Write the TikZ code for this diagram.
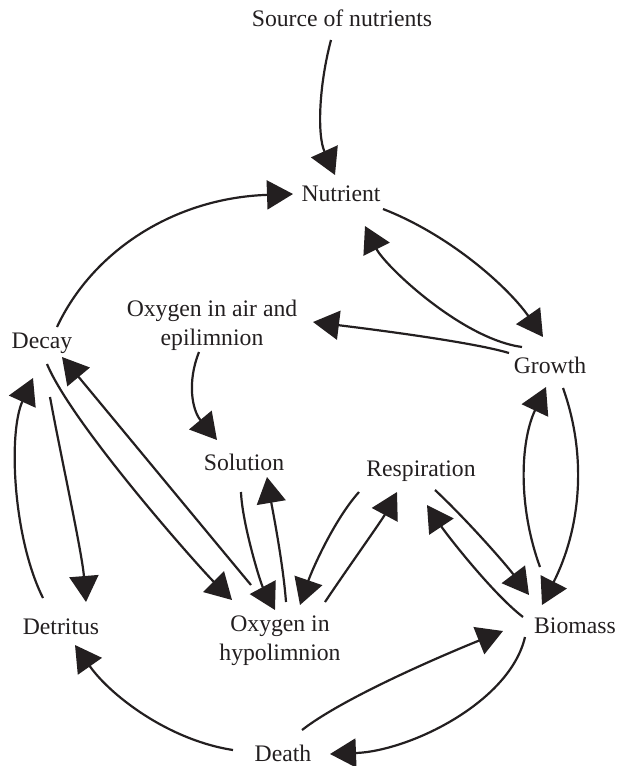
\documentclass[tikz,border=0pt]{standalone}
\usepackage{fontspec}
\setmainfont{Liberation Serif}
\usetikzlibrary{arrows.meta}
\definecolor{ink}{HTML}{231F20}
\begin{document}
\begin{tikzpicture}[x=1pt,y=-1pt,
  lbl/.style={font=\fontsize{23.7}{29}\selectfont, text=ink, inner sep=0pt, anchor=base, align=center},
  flow/.style={line width=2.2pt, draw=ink, -{Triangle[length=26pt,width=29pt,fill=ink]}}]
\useasboundingbox (0,0) rectangle (617,766);

% compartments of the lake model (two-line labels sit on their last baseline)
\node[lbl] (source)   at (342,26)  {Source of nutrients};
\node[lbl] (nutrient) at (341,201) {Nutrient};
\node[lbl] (oxair)    at (212,345) {Oxygen in air and\\epilimnion};
\node[lbl] (decay)    at (42,348)  {Decay};
\node[lbl] (growth)   at (550,373) {Growth};
\node[lbl] (solution) at (244,470) {Solution};
\node[lbl] (resp)     at (421,476) {Respiration};
\node[lbl] (detritus) at (61,634)  {Detritus};
\node[lbl] (oxhyp)    at (280,660) {Oxygen in\\hypolimnion};
\node[lbl] (biomass)  at (575,633) {Biomass};
\node[lbl] (death)    at (283,761) {Death};

% nutrient cycle
\draw[flow] ([shift={(-11,14)}]source.base) .. controls +(-12,45) and +(-18,-40) .. ([shift={(-6,-26)}]nutrient.base);
\draw[flow] ([shift={(15,-21)}]decay.base) .. controls +(35,-75) and +(-120,4) .. ([shift={(-48,-7)}]nutrient.base);
\draw[flow] ([shift={(42,8)}]nutrient.base) .. controls +(67,26) and +(-35,-50) .. ([shift={(-7,-36)}]growth.base);
\draw[flow] ([shift={(-28,-26)}]growth.base) .. controls +(-60,-8) and +(20,40) .. ([shift={(24,25)}]nutrient.base);
\draw[flow] ([shift={(-41,-20)}]growth.base) .. controls +(-40,-12) and +(40,5) .. ([shift={(101,-23)}]oxair.base);

% growth and biomass
\draw[flow] ([shift={(-35,-66)}]biomass.base) .. controls +(-22,-60) and +(-26,55) .. ([shift={(-4,14)}]growth.base);
\draw[flow] ([shift={(13,15)}]growth.base) .. controls +(25,70) and +(38,-75) .. ([shift={(-33,-28)}]biomass.base);

% respiration
\draw[flow] ([shift={(14,14)}]resp.base) .. controls +(30,28) and +(-25,-33) .. ([shift={(-46,-38)}]biomass.base);
\draw[flow] ([shift={(-52,-16)}]biomass.base) .. controls +(-30,-23) and +(20,30) .. ([shift={(6,29)}]resp.base);
\draw[flow] ([shift={(-62,16)}]resp.base) .. controls +(-25,28) and +(12,-35) .. ([shift={(20,-55)}]oxhyp.base);
\draw[flow] ([shift={(45,-58)}]oxhyp.base) .. controls +(20,-30) and +(-15,28) .. ([shift={(-24,16)}]resp.base);

% oxygen exchange
\draw[flow] ([shift={(-13,7)}]oxair.base) .. controls +(-12,30) and +(-25,-30) .. ([shift={(-27,-30)}]solution.base);
\draw[flow] ([shift={(-3,22)}]solution.base) .. controls +(1,30) and +(-15,-28) .. ([shift={(-5,-50)}]oxhyp.base);
\draw[flow] ([shift={(6,-58)}]oxhyp.base) .. controls +(-3,-40) and +(5,30) .. ([shift={(23,7)}]solution.base);

% decay
\draw[flow] ([shift={(5,16)}]decay.base) .. controls +(25,60) and +(-35,-35) .. ([shift={(-48,-60)}]oxhyp.base);
\draw[flow] ([shift={(-29,-75)}]oxhyp.base) .. controls +(-30,-36) and +(30,36) .. ([shift={(20,9)}]decay.base);
\draw[flow] ([shift={(8,49)}]decay.base) .. controls +(10,55) and +(-4,-50) .. ([shift={(25,-32)}]detritus.base);
\draw[flow] ([shift={(-18,-36)}]detritus.base) .. controls +(-30,-60) and +(-25,55) .. ([shift={(-9,30)}]decay.base);

% death
\draw[flow] ([shift={(-50,-11)}]death.base) .. controls +(-65,-10) and +(35,50) .. ([shift={(14,11)}]detritus.base);
\draw[flow] ([shift={(19,-31)}]death.base) .. controls +(45,-35) and +(-45,18) .. ([shift={(-72,-2)}]biomass.base);
\draw[flow] ([shift={(-50,4)}]biomass.base) .. controls +(-15,65) and +(80,-3) .. ([shift={(47,-7)}]death.base);
\end{tikzpicture}
\end{document}
